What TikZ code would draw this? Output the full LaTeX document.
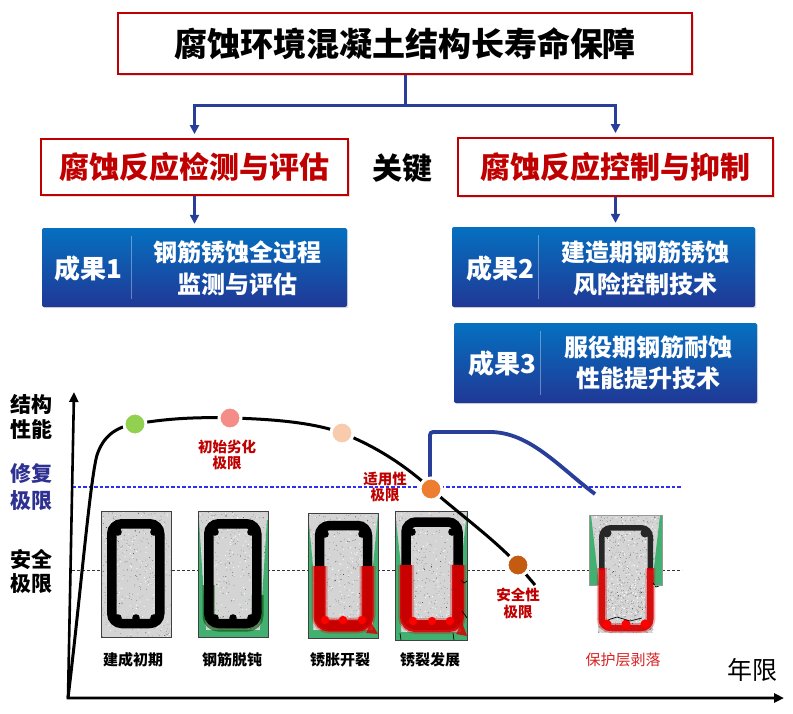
\documentclass[tikz,border=0pt]{standalone}
\usepackage{fontspec}
\setmainfont{Noto Sans CJK SC}
\usetikzlibrary{arrows.meta,shadows}
\definecolor{cred}{RGB}{192,0,0}
\definecolor{cblue}{RGB}{40,62,152}
\definecolor{bxtop}{RGB}{5,112,192}
\definecolor{bxbot}{RGB}{32,56,150}
\definecolor{rblue}{RGB}{46,49,146}
\definecolor{cgreen}{RGB}{66,176,112}
\definecolor{rebarred}{RGB}{215,0,0}
\definecolor{dotgreen}{RGB}{146,208,80}
\definecolor{dotpink}{RGB}{244,140,135}
\definecolor{dotpeach}{RGB}{248,203,173}
\definecolor{dotorange}{RGB}{237,125,49}
\definecolor{dotdark}{RGB}{197,90,17}
\definecolor{concretegray}{RGB}{212,212,212}
\definecolor{spallred}{RGB}{215,35,35}
\definecolor{dashblue}{RGB}{45,45,245}
\newcommand\concretefill[5]{%
  \fill[concretegray] (#1,#2) rectangle (#3,#4);
  \pgfmathsetseed{#5}%
  \foreach \k in {1,...,300}{\fill[black!50] ({#1+(#3-#1)*rnd},{#2+(#4-#2)*rnd}) circle (0.4);}
  \foreach \k in {1,...,40}{\fill[black!80] ({#1+(#3-#1)*rnd},{#2+(#4-#2)*rnd}) circle (0.45);}
  \foreach \k in {1,...,160}{\fill[white] ({#1+(#3-#1)*rnd},{#2+(#4-#2)*rnd}) circle (0.6);}
}
\tikzset{
  redbox/.style={draw=cred, line width=1.8pt, fill=white, inner sep=0pt,
    drop shadow={opacity=0.25, shadow xshift=1.5pt, shadow yshift=-1.5pt}},
  bluebox/.style={top color=bxtop, bottom color=bxbot, draw=none, rounded corners=2pt,
    drop shadow={opacity=0.25, shadow xshift=1.2pt, shadow yshift=-1.2pt}},
  conn/.style={draw=cblue, line width=3pt},
  arrowconn/.style={conn, -{Triangle[length=9pt,width=9pt]}, shorten >=4pt},
  divider/.style={draw=white, draw opacity=0.35, line width=1pt},
  boxtxt/.style={text=white, inner sep=0pt, font=\bfseries\fontsize{24}{28}\selectfont},
  boxhead/.style={text=white, inner sep=0pt, font=\bfseries\fontsize{26}{30}\selectfont},
  sidelbl/.style={inner sep=0pt, font=\bfseries\fontsize{21}{24}\selectfont},
  rlbl/.style={inner sep=0pt, text=cred, align=center, font=\bfseries\fontsize{14.5}{16.5}\selectfont},
  slbl/.style={inner sep=0pt, font=\bfseries\fontsize{15}{17}\selectfont},
  dotnode/.style={circle, minimum size=22pt, inner sep=0pt, draw=white, line width=3pt},
  axisline/.style={draw=black, line width=2.6pt, {Triangle[length=10pt,width=9pt]}-{Triangle[length=10pt,width=9pt]}},
  curveline/.style={draw=black, line width=3pt},
  repairline/.style={draw=cblue, line width=3.8pt, rounded corners=3pt},
  stirrup/.style={draw=black, line width=9.5pt, rounded corners=10pt},
  secborder/.style={draw=black!75, line width=0.9pt},
  redbar/.style={draw=rebarred, line width=12pt, rounded corners=9pt, draw opacity=0.9},
  redglow/.style={draw=rebarred, line width=16pt, rounded corners=10pt, draw opacity=0.3},
  limitblue/.style={draw=dashblue, line width=1.1pt, dash pattern=on 3.5pt off 2pt},
  limitblack/.style={draw=black!80, line width=0.9pt, dash pattern=on 3pt off 2pt},
  crack/.style={draw=black, line width=0.7pt}
}
\begin{document}
\begin{tikzpicture}[x=1pt,y=-1pt]
\useasboundingbox (0,0) rectangle (793,713);
\fill[white] (0,0) rectangle (793,713);

% ---------- top hierarchy ----------
\node[redbox, minimum width=574pt, minimum height=61pt, font=\bfseries\fontsize{33}{36}\selectfont] (top) at (405,43.5) {腐蚀环境混凝土结构长寿命保障};
\node[redbox, minimum width=307pt, minimum height=56pt, text=cred, font=\bfseries\fontsize{30}{34}\selectfont] (lbox) at (194.5,167) {腐蚀反应检测与评估};
\node[inner sep=0pt, font=\bfseries\fontsize{30}{34}\selectfont] (key) at (402,168) {关键};
\node[redbox, minimum width=315pt, minimum height=58pt, text=cred, font=\bfseries\fontsize{30}{34}\selectfont] (rbox) at (615.5,167) {腐蚀反应控制与抑制};

\coordinate (jn) at (405,105);
\draw[conn] (top.south) -- (jn);
\draw[arrowconn] (jn) -| (lbox.north);
\draw[arrowconn] (jn) -| (rbox.north);

% results
\node[bluebox, minimum width=305pt, minimum height=79pt] (r1) at (194.5,267.5) {};
\node[bluebox, minimum width=303pt, minimum height=80pt] (r2) at (603.5,267) {};
\node[bluebox, minimum width=303pt, minimum height=80pt] (r3) at (605.5,363) {};

\draw[arrowconn] (lbox.south) -- (lbox.south |- r1.north);
\draw[arrowconn] (rbox.south) -- (rbox.south |- r2.north);

\coordinate (v1a) at (131,236); \coordinate (v1b) at (131,299);
\coordinate (v2a) at (538,235); \coordinate (v2b) at (538,299);
\coordinate (v3a) at (540,331); \coordinate (v3b) at (540,395);
\draw[divider] (v1a) -- (v1b);
\draw[divider] (v2a) -- (v2b);
\draw[divider] (v3a) -- (v3b);

\node[boxhead] (r1h) at (88,269) {成果1};
\node[boxtxt] (r1a) at (237,252) {钢筋锈蚀全过程};
\node[boxtxt] (r1b) at (237,284) {监测与评估};
\node[boxhead] (r2h) at (500,269) {成果2};
\node[boxtxt] (r2a) at (645,252) {建造期钢筋锈蚀};
\node[boxtxt] (r2b) at (645,284) {风险控制技术};
\node[boxhead] (r3h) at (502,364) {成果3};
\node[boxtxt] (r3a) at (648,347) {服役期钢筋耐蚀};
\node[boxtxt] (r3b) at (648,378) {性能提升技术};

% ---------- chart ----------
\node[sidelbl] (s1) at (31,404) {结构};
\node[sidelbl] (s2) at (31,429) {性能};
\node[sidelbl, text=rblue] (s3) at (31,474) {修复};
\node[sidelbl, text=rblue] (s4) at (31,501) {极限};
\node[sidelbl] (s5) at (31,559) {安全};
\node[sidelbl] (s6) at (31,583.5) {极限};

\coordinate (la) at (72,487); \coordinate (lb) at (682,487);
\coordinate (lc) at (72,570); \coordinate (ld) at (682,570);
\draw[limitblue] (la) -- (lb);
\draw[limitblack] (lc) -- (ld);

% section 1
\concretefill{101}{511}{171}{637}{11}
\draw[stirrup] (111.75,523.75) rectangle (159.75,623.5);
\foreach \p in {(118,532),(154,532),(118,618),(136,618),(154,618)} \fill \p circle (3.8);
\draw[secborder] (101,511) rectangle (171,637);

% section 2
\concretefill{198}{511}{268}{637}{22}
\fill[cgreen] (198,520) -- (199,520) -- (206,630) -- (260,630) -- (267,520) -- (268,520) -- (268,637) -- (198,637) -- cycle;
\draw[draw=green!30!black, line width=12pt, rounded corners=10pt, draw opacity=0.6] (208.5,585) -- (208.5,625.5) -- (257.5,625.5) -- (257.5,595);
\draw[stirrup] (208.75,523.75) rectangle (256.75,623.5);
\foreach \p in {(215,532),(251,532),(215,618),(233,618),(251,618)} \fill \p circle (3.8);
\draw[secborder] (198,511) rectangle (268,637);

% section 3
\concretefill{308}{513}{378}{638}{33}
\fill[cgreen, even odd rule] (308,513) rectangle (378,638) (308,513) -- (378,513) -- (373,566) -- (373,630) -- (313,630) -- (313,566) -- cycle;
\draw[stirrup] (319.5,525.5) rectangle (367.5,625.5);
\foreach \p in {(325,534),(362,534)} \fill \p circle (3.8);
\draw[redglow] (319.5,566) -- (319.5,625.5) -- (367.5,625.5) -- (367.5,566);
\draw[redbar] (319.5,566) -- (319.5,625.5) -- (367.5,625.5) -- (367.5,566);
\fill[rebarred, opacity=0.85] (371,622) -- (378,634) -- (366,633) -- cycle;
\foreach \p in {(325,620),(343,620),(362,620)} \fill[red] \p circle (4.2);
\draw[secborder] (308,513) rectangle (378,638);

% section 4
\concretefill{395}{511}{467}{640}{44}
\fill[cgreen, even odd rule] (395,511) rectangle (467,640) (395,511) -- (467,511) -- (461,566) -- (461,632) -- (401,632) -- (401,566) -- cycle;
\draw[stirrup] (406,522) rectangle (458,625);
\foreach \p in {(412,532),(452,532)} \fill \p circle (3.8);
\draw[redglow] (406,565) -- (406,626) -- (458,626) -- (458,565);
\draw[redbar] (406,565) -- (406,626) -- (458,626) -- (458,565);
\fill[rebarred, opacity=0.85] (462,622) -- (467,636) -- (456,634) -- cycle;
\foreach \p in {(413,621),(432,621),(450,621)} \fill[red] \p circle (4.2);
\draw[crack] (461,580) -- (464,583) -- (467,581);
\draw[crack] (462,611) -- (465,615) -- (467,618);
\draw[crack] (400,633) -- (401,640);
\draw[crack] (453,633) -- (454,640);
\draw[secborder] (395,511) rectangle (467,640);

% section 5
\concretefill{589}{515}{662}{585}{55}
\concretefill{598}{585}{653}{633}{66}
\fill[cgreen] (589,515) -- (591,515) -- (599,585) -- (589,585) -- cycle;
\fill[cgreen] (662,515) -- (660,515) -- (652,585) -- (662,585) -- cycle;
\draw[draw=black!85, line width=5.5pt, rounded corners=9pt] (601.75,570) -- (601.75,527.75) -- (650.25,527.75) -- (650.25,570);
\draw[draw=rebarred, line width=10pt, rounded corners=9pt, draw opacity=0.3] (601.75,568) -- (601.75,628) -- (650.25,628) -- (650.25,568);
\draw[draw=rebarred, line width=6.5pt, rounded corners=9pt, draw opacity=0.9] (601.75,568) -- (601.75,628) -- (650.25,628) -- (650.25,568);
\foreach \p in {(607,533),(645,533)} \fill[black!85] \p circle (4.5);
\foreach \p in {(607,624),(626,624),(645,624)} \fill[red] \p circle (4.5);
\draw[crack] (608,620) -- (617,617) -- (630,621) -- (642,618);
\draw[crack] (653,583) -- (656,587) -- (659,586);
\draw[draw=black!40, line width=0.6pt] (598,585) -- (589,585) -- (589,515) -- (662,515) -- (662,585) -- (653,585);

% axes
\coordinate (yt) at (74,392);
\coordinate (org) at (68,698);
\coordinate (xe) at (784,698);
\draw[axisline] (yt) -- (org) -- (xe);

% performance curve
\draw[curveline] (org) .. controls (80,600) and (90,480) .. (97,455) .. controls (103,437) and (115,427) .. (135,424) .. controls (170,418) and (200,417) .. (230,418) .. controls (275,419) and (315,423) .. (342,433) .. controls (375,446) and (405,465) .. (431,489) .. controls (462,516) and (495,540) .. (518,565) -- (535,585);

% repair curve
\draw[repairline] (430,480) -- (430,432) -- (487,432) .. controls (530,432) and (560,468) .. (595,494);

% dots
\node[dotnode, fill=dotgreen] (d1) at (135,424) {};
\node[dotnode, fill=dotpink] (d2) at (230,418) {};
\node[dotnode, fill=dotpeach] (d3) at (342,433) {};
\node[dotnode, fill=dotorange] (d4) at (431,489) {};
\node[dotnode, fill=dotdark] (d5) at (518,565) {};

% limit labels
\node[rlbl] (l1) at (227,455) {初始劣化\\极限};
\node[rlbl] (l2) at (385,487) {适用性\\极限};
\node[rlbl] (l3) at (518,603.5) {安全性\\极限};

% stage labels
\node[slbl] (t1) at (133,660) {建成初期};
\node[slbl] (t2) at (232,660) {钢筋脱钝};
\node[slbl] (t3) at (340,660) {锈胀开裂};
\node[slbl] (t4) at (430,660) {锈裂发展};
\node[inner sep=0pt, text=spallred, font=\fontsize{15}{17}\selectfont] (t5) at (623,660) {保护层剥落};
\node[inner sep=0pt, font=\fontsize{25}{28}\selectfont] (yr) at (752,670) {年限};
\end{tikzpicture}
\end{document}
